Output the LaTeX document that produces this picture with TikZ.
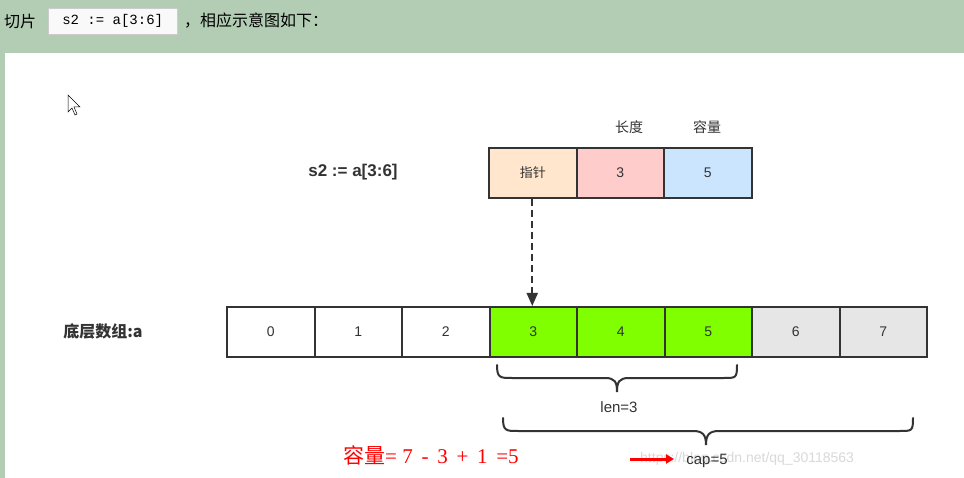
\documentclass[tikz,border=0pt]{standalone}
\usepackage{fontspec}
\setmainfont{Liberation Sans}
\newfontfamily\cjk{Noto Sans CJK SC}
\newfontfamily\cmono{Liberation Mono}
\newfontfamily\rserif{Liberation Serif}
\usetikzlibrary{arrows.meta}
\definecolor{bgg}{HTML}{B2CDB4}
\definecolor{txt}{HTML}{333333}
\definecolor{ptr}{HTML}{FFE6CC}
\definecolor{lenc}{HTML}{FFCCCC}
\definecolor{capc}{HTML}{CCE5FF}
\definecolor{grn}{HTML}{80FF00}
\definecolor{gry}{HTML}{E6E6E6}
\tikzset{cell/.style={draw=txt,line width=2pt,minimum width=87.5pt,minimum height=50pt,anchor=north west,inner sep=0pt,font=\fontsize{14}{16}\selectfont,text=txt},
lbl/.style={font=\cjk\fontsize{14}{16}\selectfont,text=txt},
brc/.style={draw=txt,line width=2pt,line cap=round}}
\begin{document}
\begin{tikzpicture}[x=1pt,y=-1pt]
\useasboundingbox (0,0) rectangle (964,478);
\fill[bgg] (0,0) rectangle (964,478);
\fill[white] (5,53) rectangle (964,478);
\node[anchor=west,inner sep=1pt,text=black,font=\cjk\fontsize{16}{18}\selectfont] (h1) at (3,21) {切片};
\node[draw=gray!40,fill=gray!5,anchor=west,minimum width=129pt,minimum height=26pt,font=\cmono\fontsize{14}{16}\selectfont] (code) at (48,21) {s2 := a[3:6]};
\node[anchor=west,inner sep=1pt,text=black,font=\cjk\fontsize{16}{18}\selectfont] (h2) at (183,21) {，相应示意图如下：};
\draw[fill=white,line width=0.5pt] (68,95) -- (68,112) -- (72,108) -- (75,115) -- (77,114) -- (74,107) -- (80,107) -- cycle;
\node[font=\bfseries\fontsize{17}{19}\selectfont,text=txt] (s2) at (353,172) {s2 := a[3:6]};
\node[cell,fill=ptr,font=\cjk\fontsize{13}{15}\selectfont] (p) at (488,147) {指针};
\node[cell,fill=lenc] (l) at (575.5,147) {3};
\node[cell,fill=capc] (c) at (663,147) {5};
\node[lbl] (lt) at (629,127) {长度};
\node[lbl] (ct) at (707,127) {容量};
\node[font=\cjk\bfseries\fontsize{16}{18}\selectfont,text=txt] (al) at (103,331) {底层数组:a};
\foreach \i/\f in {0/white,1/white,2/white,3/grn,4/grn,5/grn,6/gry,7/gry}
  \node[cell,fill=\f] (a\i) at (226+87.5*\i,306) {\i};
\draw[txt,line width=2pt,dash pattern=on 7pt off 4pt,-{Triangle[length=13pt,width=11pt]}] (p.south) ++(-0.5,0) coordinate (ps) -- (a3.north -| ps);
\draw[brc] (497,365) .. controls (497,378) and (500,378) .. (512,378) -- (605,378) .. controls (615,378) and (617,382) .. (617,392) .. controls (617,382) and (619,378) .. (629,378) -- (724,378) .. controls (736,378) and (737,378) .. (737,365);
\node[font=\fontsize{15}{17}\selectfont,text=txt] (lenl) at (619,407) {len=3};
\draw[brc] (503,418) .. controls (503,431) and (506,431) .. (518,431) -- (693,431) .. controls (703,431) and (706,435) .. (706,445) .. controls (706,435) and (709,431) .. (719,431) -- (900,431) .. controls (912,431) and (913,431) .. (913,418);
\node[font=\fontsize{14}{16}\selectfont,text=gray!30,anchor=west,inner sep=0pt] (wm) at (640,459) {https://blog.csdn.net/qq\_30118563};
\node[font=\fontsize{15}{17}\selectfont,text=txt] (capl) at (707,461) {cap=5};
\coordinate (ar1) at (630,459);
\draw[red,line width=3pt,-{Triangle[length=8pt,width=9pt]}] (ar1) -- ++(44,0);
\node[text=red,font=\rserif\fontsize{21}{23}\selectfont,anchor=west,inner sep=1pt] (form) at (342,455) {{\cjk 容量}= 7 \,- \,3 \,+ \,1 \,=5};
\end{tikzpicture}
\end{document}
